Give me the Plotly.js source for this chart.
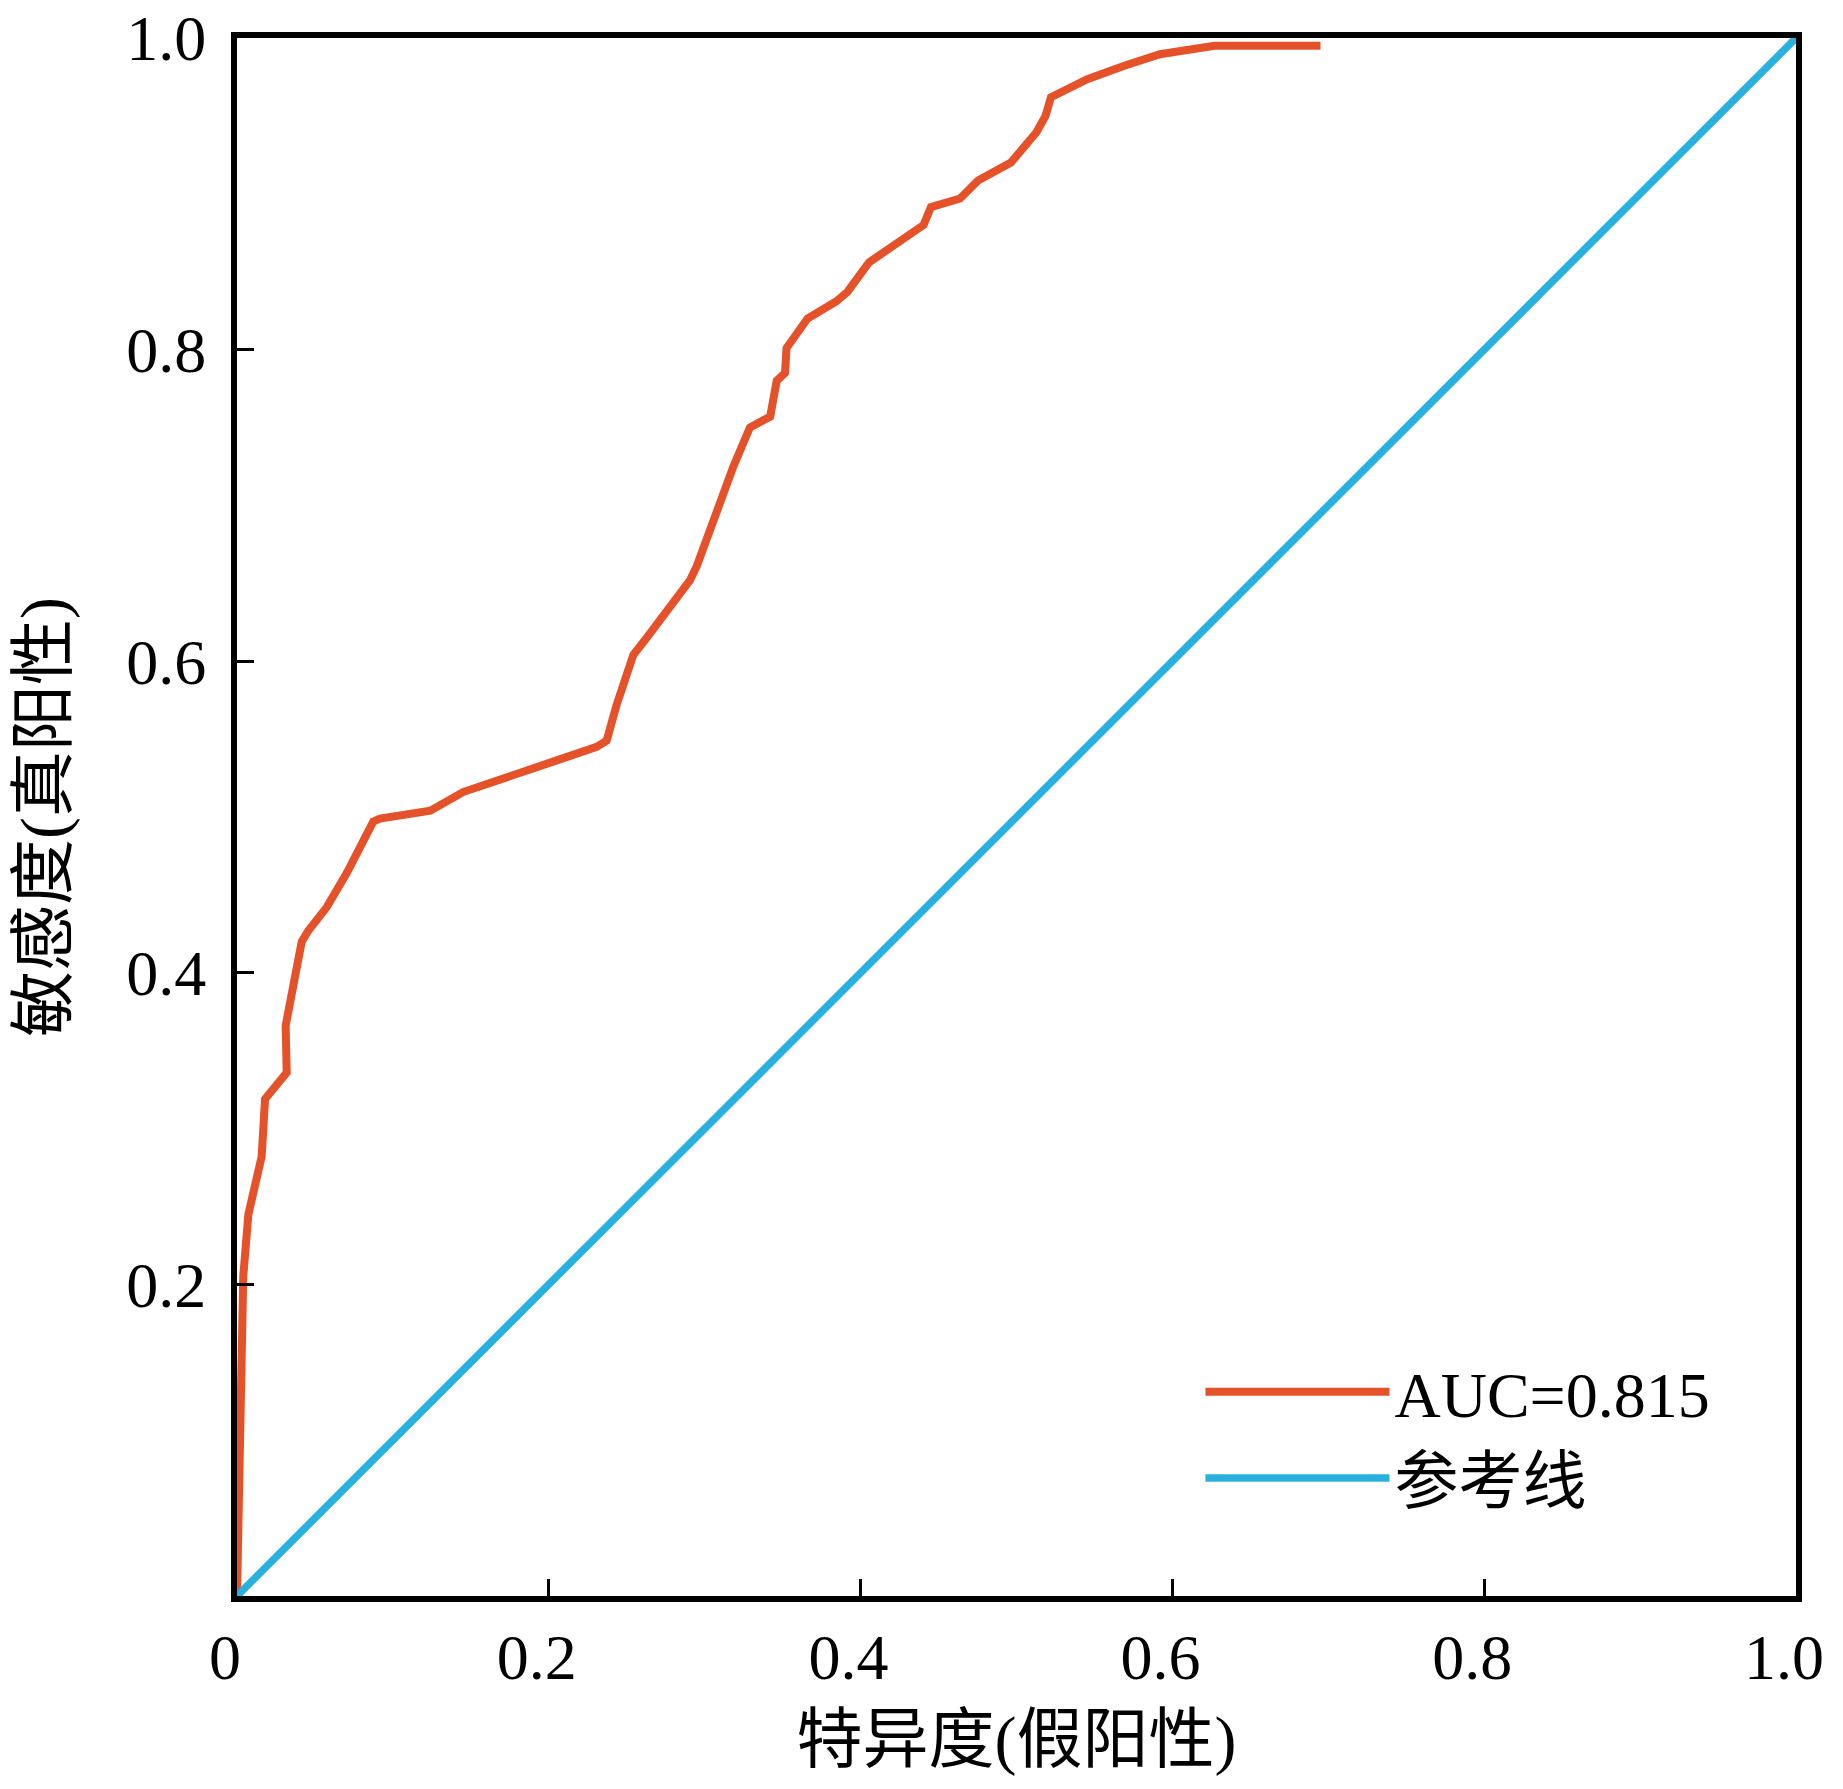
<!DOCTYPE html>
<html>
<head>
<meta charset="utf-8">
<script src="https://cdn.plot.ly/plotly-3.0.1.min.js"></script>
<style>
html,body{margin:0;padding:0;background:#fff;}
#chart{width:1843px;height:1789px;}
</style>
</head>
<body>
<div id="chart"></div>
<script>
// ROC curve (false positive rate vs true positive rate)
var fpr = [0, 0.002, 0.004, 0.0073, 0.0158, 0.018, 0.0233, 0.0319, 0.0312, 0.034, 0.0415, 0.0457, 0.0575, 0.0704, 0.0874, 0.0917, 0.124, 0.145, 0.1815, 0.207, 0.2307, 0.2371, 0.2435, 0.2542, 0.2628, 0.2906, 0.2949, 0.3055, 0.3184, 0.329, 0.342, 0.3462, 0.3515, 0.3525, 0.366, 0.3845, 0.3915, 0.4054, 0.4124, 0.4404, 0.4451, 0.4521, 0.4638, 0.4754, 0.4964, 0.5128, 0.5186, 0.5221, 0.5454, 0.5687, 0.592, 0.627, 0.695];
var tpr = [0, 0.1, 0.205, 0.245, 0.282, 0.319, 0.326, 0.336, 0.366, 0.38, 0.42, 0.427, 0.442, 0.464, 0.497, 0.499, 0.504, 0.516, 0.529, 0.537, 0.545, 0.549, 0.572, 0.604, 0.615, 0.652, 0.661, 0.691, 0.725, 0.75, 0.757, 0.78, 0.785, 0.801, 0.82, 0.831, 0.837, 0.856, 0.861, 0.88, 0.8915, 0.894, 0.897, 0.9086, 0.92, 0.9395, 0.95, 0.962, 0.9736, 0.982, 0.9896, 0.995, 0.995];
// reference (diagonal) line
var refX = [0, 1];
var refY = [0, 1];

var seriesNames = ['AUC=0.815', '参考线'];
var xTickVals = [0, 0.2, 0.4, 0.6, 0.8, 1.0];
var xTickText = ['0', '0.2', '0.4', '0.6', '0.8', '1.0'];
var yTickVals = [0.2, 0.4, 0.6, 0.8, 1.0];
var yTickText = ['0.2', '0.4', '0.6', '0.8', '1.0'];
var xTitle = '特异度(假阳性)';
var yTitle = '敏感度(真阳性)';

var FONT = '"Liberation Serif", "Noto Sans CJK SC", serif';

var traces = [
  {x: fpr, y: tpr, type: 'scatter', mode: 'lines', name: seriesNames[0],
   line: {color: '#E5522A', width: 8}},
  {x: refX, y: refY, type: 'scatter', mode: 'lines', name: seriesNames[1],
   line: {color: '#2AB0DE', width: 7.5}}
];

var axisCommon = {
  range: [0, 1],
  showgrid: false,
  zeroline: false,
  showline: true,
  linecolor: '#000',
  linewidth: 6,
  mirror: true,
  ticks: 'inside',
  ticklen: 17,
  tickwidth: 3,
  tickcolor: '#000',
  ticklabeloverflow: 'allow',
  tickfont: {family: FONT, size: 64, color: '#000'},
  tickmode: 'array'
};

var layout = {
  width: 1843,
  height: 1789,
  margin: {l: 237, r: 47, t: 38, b: 193},
  paper_bgcolor: '#fff',
  plot_bgcolor: '#fff',
  font: {family: FONT, color: '#000'},
  xaxis: Object.assign({}, axisCommon, {
    tickvals: xTickVals, ticktext: xTickText,
    ticklabelshift: -12,
    ticklabelstandoff: 0,
    title: {text: xTitle, font: {family: FONT, size: 66, color: '#000'}, standoff: 26}
  }),
  yaxis: Object.assign({}, axisCommon, {
    tickvals: yTickVals, ticktext: yTickText,
    ticklabelstandoff: 12,
    title: {text: yTitle, font: {family: FONT, size: 66, color: '#000'}, standoff: 40}
  }),
  showlegend: true,
  legend: {
    x: 0.618, xanchor: 'left',
    y: 0.162, yanchor: 'top',
    bgcolor: 'rgba(0,0,0,0)',
    borderwidth: 0,
    itemwidth: 184,
    font: {family: FONT, size: 64, color: '#000'},
    tracegroupgap: 0
  }
};

Plotly.newPlot('chart', traces, layout, {displayModeBar: false, staticPlot: true});
</script>
</body>
</html>
